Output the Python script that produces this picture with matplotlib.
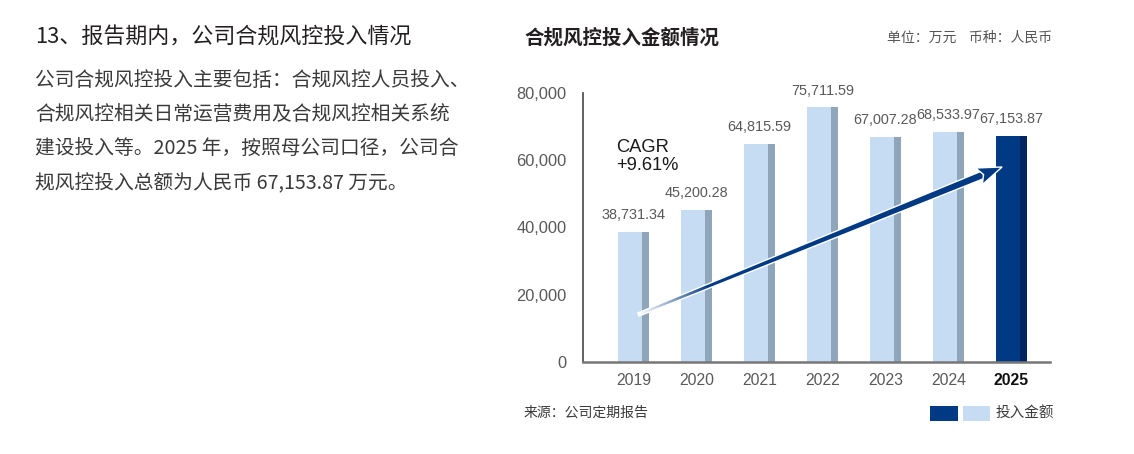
import numpy as np
import matplotlib
matplotlib.use('Agg')
import matplotlib.pyplot as plt
import matplotlib.transforms as mtransforms
from matplotlib.patches import Polygon, Rectangle

# データ
years = ['2019', '2020', '2021', '2022', '2023', '2024', '2025']
amounts = [38731.34, 45200.28, 64815.59, 75711.59, 67007.28, 68533.97, 67153.87]
value_labels = ['38,731.34', '45,200.28', '64,815.59', '75,711.59', '67,007.28', '68,533.97', '67,153.87']
yticks = [0, 20000, 40000, 60000, 80000]
ytick_labels = ['0', '20,000', '40,000', '60,000', '80,000']
cagr_text = 'CAGR\n+9.61%'

heading = '13、报告期内，公司合规风控投入情况'
paragraph = ['公司合规风控投入主要包括：合规风控人员投入、',
             '合规风控相关日常运营费用及合规风控相关系统',
             '建设投入等。2025 年，按照母公司口径，公司合',
             '规风控投入总额为人民币 67,153.87 万元。']

LIGHT = '#c5dcf2'
LIGHT_SIDE = '#8fa5ba'
DARK = '#003a84'
DARK_SIDE = '#00245e'
GRAY = '#595959'

CJK = ['Noto Sans CJK SC', 'DejaVu Sans']
LAT = ['Liberation Sans', 'Noto Sans CJK SC']
plt.rcParams['font.family'] = LAT

W, H = 1134, 454
fig = plt.figure(figsize=(W / 100, H / 100), dpi=100)

# 左側のテキスト
fig.text(35 / W, 1 - 38 / H, heading, family=CJK, fontsize=15.8, color='#231f20', va='center')
for i, line in enumerate(paragraph):
    fig.text(35 / W, 1 - (80 + i * 34.5) / H, line, family=CJK, fontsize=14.2,
             color='#3a3a3a', va='center')

# グラフ
ax = fig.add_axes([583 / W, 92 / H, (1050 - 583) / W, 269 / H])
x = np.arange(len(years))
front_w, side_w = 0.381, 0.111
start = -(front_w + side_w) / 2
front_colors = [LIGHT] * (len(years) - 1) + [DARK]
side_colors = [LIGHT_SIDE] * (len(years) - 1) + [DARK_SIDE]
ax.bar(x + start, amounts, width=front_w, align='edge', color=front_colors, zorder=2)
ax.bar(x + start + front_w, amounts, width=side_w, align='edge', color=side_colors, zorder=2)

for xi, v, lab in zip(x, amounts, value_labels):
    ax.annotate(lab, (xi, v), xytext=(0, 7), textcoords='offset points',
                ha='center', va='bottom', fontsize=10.4, color=GRAY)

XLIM = (-0.80, 6.61)
YLIM = (0, 80000)
ax.set_xlim(*XLIM)
ax.set_ylim(*YLIM)
ax.set_autoscale_on(False)
ax.set_yticks(yticks)
ax.set_yticklabels(ytick_labels, fontsize=11.8, color=GRAY)
ax.set_xticks(x)
ax.set_xticklabels(years, fontsize=11.3, color=GRAY)
last = ax.get_xticklabels()[-1]
last.set_fontweight('bold')
last.set_color('#111111')
ax.tick_params(axis='both', length=0)
ax.tick_params(axis='y', pad=12)
ax.tick_params(axis='x', pad=8)
for s in ['top', 'right']:
    ax.spines[s].set_visible(False)
ax.spines['left'].set_color('#555555')
ax.spines['left'].set_linewidth(1.3)
ax.spines['bottom'].set_color('#777777')
ax.spines['bottom'].set_linewidth(1.8)
ax.spines['bottom'].set_zorder(3)

ax.text(-0.28, 66300, cagr_text, fontsize=13.2, color='#1a1a1a', va='top', ha='left',
        linespacing=1.05)

# 矢印（グラデーション）
p0 = ax.transData.transform((0.09, 14200))
p1 = ax.transData.transform((5.85, 58000))
d = p1 - p0
L = np.hypot(*d)
u = d / L
nrm = np.array([-u[1], u[0]])
head_len, head_half = 25, 9
shaft_end = p1 - u * (head_len - 4)
w0, w1 = 1.0, 3.2  # 半幅(px)
shaft_pts = [p0 + nrm * w0, shaft_end + nrm * w1, shaft_end - nrm * w1, p0 - nrm * w0]
base = p1 - u * head_len
head_pts = [p1, base + nrm * head_half, base + u * 5, base - nrm * head_half]
ident = mtransforms.IdentityTransform()

outline = Polygon(shaft_pts, closed=True, facecolor='white', edgecolor='white',
                  linewidth=2.0, transform=ident, zorder=4)
ax.add_patch(outline)
clip = Polygon(shaft_pts, closed=True, facecolor='none', edgecolor='none', transform=ident)
ax.add_patch(clip)

allp = np.array(shaft_pts)
bx0, by0 = allp.min(axis=0) - 2
bx1, by1 = allp.max(axis=0) + 2
gx = np.linspace(bx0, bx1, 300)
gy = np.linspace(by0, by1, 150)
GX, GY = np.meshgrid(gx, gy)
proj = ((GX - p0[0]) * u[0] + (GY - p0[1]) * u[1]) / np.hypot(*(shaft_end - p0))
mix = np.clip(proj / 0.2, 0, 1)[..., None]
dark_rgb = np.array(matplotlib.colors.to_rgb(DARK))
img = (1 - mix) * np.ones(3) + mix * dark_rgb
im = ax.imshow(img, extent=(bx0, bx1, by0, by1), origin='lower', transform=ident,
               interpolation='bilinear', zorder=5, aspect='auto')
im.set_clip_path(clip)
ax.set_xlim(*XLIM)
ax.set_ylim(*YLIM)

head = Polygon(head_pts, closed=True, facecolor=DARK, edgecolor='white', linewidth=1.0,
               transform=ident, zorder=6)
ax.add_patch(head)

# タイトル・単位
fig.text(524 / W, 1 - 38 / H, '合规风控投入金额情况', family=CJK, fontsize=14,
         fontweight='bold', color='#231f20', va='center')
fig.text(1052 / W, 1 - 38 / H, '单位：万元    币种：人民币', family=CJK, fontsize=10,
         color='#555555', va='center', ha='right', style='italic')

# 出典・凡例
fig.text(524 / W, 1 - 413 / H, '来源：公司定期报告', family=CJK, fontsize=10,
         color='#3a3a3a', va='center')
fig.patches.append(Rectangle((930 / W, 1 - 421 / H), 28 / W, 15 / H, transform=fig.transFigure,
                             facecolor=DARK, edgecolor='none'))
fig.patches.append(Rectangle((963 / W, 1 - 421 / H), 27 / W, 15 / H, transform=fig.transFigure,
                             facecolor=LIGHT, edgecolor='none'))
fig.text(996 / W, 1 - 413 / H, '投入金额', family=CJK, fontsize=10.5, color='#3a3a3a', va='center')

fig.savefig('out.png', dpi=100)
